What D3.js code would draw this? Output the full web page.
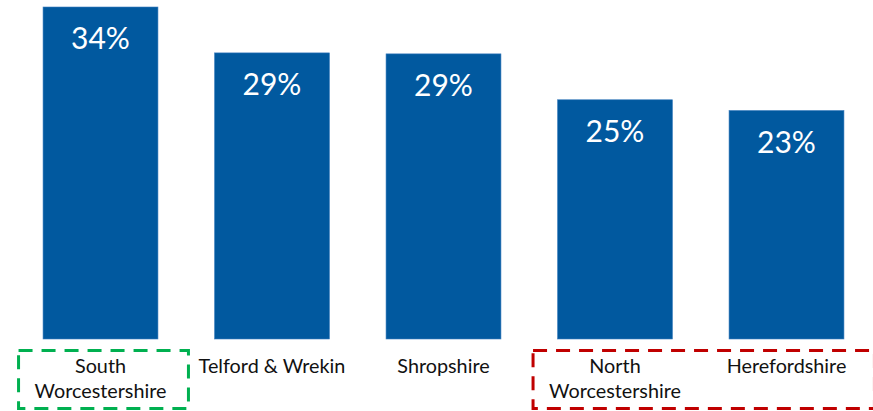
<!DOCTYPE html>
<html>
<head>
<meta charset="utf-8">
<script src="https://cdn.jsdelivr.net/npm/d3@7/dist/d3.min.js"></script>
<style>
  html, body { margin: 0; padding: 0; background: #fff; }
  svg { display: block; }
</style>
</head>
<body>
<svg id="chart" width="873" height="411"></svg>
<script>
// ---- data ----
const categories = ["South Worcestershire", "Telford & Wrekin", "Shropshire", "North Worcestershire", "Herefordshire"];
const categoryLines = [["South", "Worcestershire"], ["Telford & Wrekin"], ["Shropshire"], ["North", "Worcestershire"], ["Herefordshire"]];
const values = [34.0, 29.3, 29.2, 24.5, 23.4];
const valueLabels = ["34%", "29%", "29%", "25%", "23%"];
const highlightGroups = [
  { members: ["South Worcestershire"], color: "#00B050" },
  { members: ["North Worcestershire", "Herefordshire"], color: "#C00000" }
];

// ---- layout ----
const W = 873, H = 411;
const svg = d3.select("#chart");
const font = "Lato, 'Open Sans', sans-serif";

const x = d3.scaleBand()
  .domain(categories)
  .range([14.75, 872.25])
  .paddingInner(0.33)
  .paddingOuter(0.165);

const y = d3.scaleLinear()
  .domain([0, 34])
  .range([339, 7]);

const data = categories.map((c, i) => ({ c, v: values[i], label: valueLabels[i], lines: categoryLines[i] }));

// bars
svg.append("g").selectAll("rect")
  .data(data)
  .enter().append("rect")
  .attr("x", d => x(d.c))
  .attr("y", d => y(d.v))
  .attr("width", x.bandwidth())
  .attr("height", d => y(0) - y(d.v))
  .attr("fill", "#01599F")
  .attr("stroke", "#3D7EBF")
  .attr("stroke-width", 0.6);

// value labels
svg.append("g").selectAll("text")
  .data(data)
  .enter().append("text")
  .attr("x", d => x(d.c) + x.bandwidth() / 2)
  .attr("y", d => y(d.v) + 42)
  .attr("text-anchor", "middle")
  .attr("fill", "#fff")
  .style("font-family", font)
  .style("font-size", "30px")
  .text(d => d.label);

// category labels
const cat = svg.append("g").selectAll("text")
  .data(data)
  .enter().append("text")
  .attr("text-anchor", "middle")
  .attr("fill", "#111")
  .style("font-family", font)
  .style("font-size", "19.8px");
cat.each(function(d) {
  const t = d3.select(this);
  d.lines.forEach((ln, j) => {
    t.append("tspan")
      .attr("x", x(d.c) + x.bandwidth() / 2)
      .attr("y", 373 + j * 25)
      .text(ln);
  });
});

// highlight boxes (dashed)
highlightGroups.forEach(g => {
  const x0 = x(g.members[0]) - 24.5;
  const x1 = x(g.members[g.members.length - 1]) + x.bandwidth() + 30.5;
  svg.append("rect")
    .attr("x", x0)
    .attr("y", 350.5)
    .attr("width", x1 - x0)
    .attr("height", 58)
    .attr("fill", "none")
    .attr("stroke", g.color)
    .attr("stroke-width", 3)
    .attr("stroke-dasharray", "14,9");
});
</script>
</body>
</html>
